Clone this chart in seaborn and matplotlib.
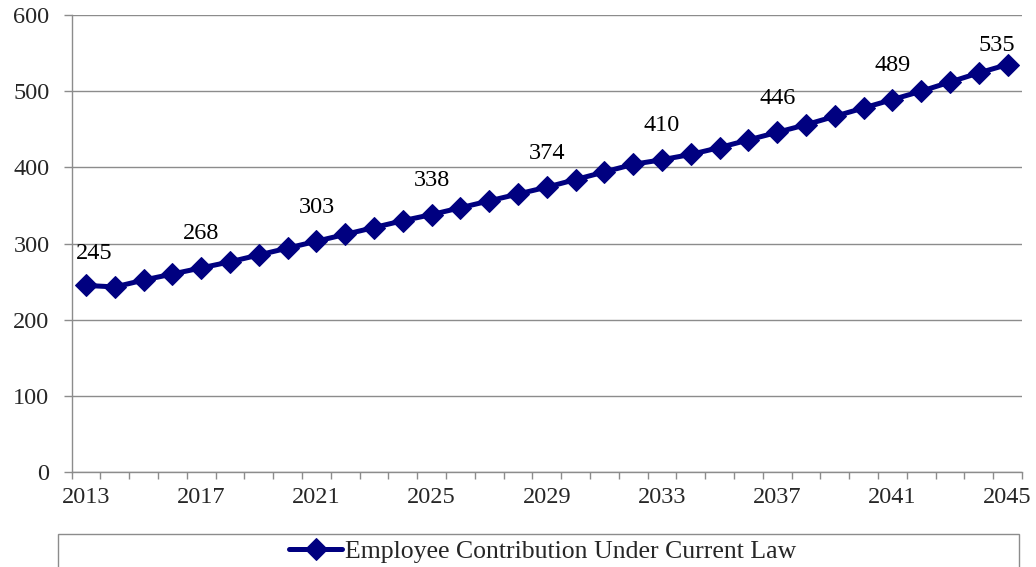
import pandas as pd
import seaborn as sns
import matplotlib.pyplot as plt
from matplotlib.patches import Rectangle

# data
years = list(range(2013, 2046))
contribution = [245, 243, 252, 260, 268, 276, 285, 294, 303, 312, 321, 330, 338,
                347, 356, 365, 374, 384, 394, 404, 410, 417, 426, 436, 446, 456,
                467, 478, 489, 500, 512, 524, 535]
label_years = [2013, 2017, 2021, 2025, 2029, 2033, 2037, 2041, 2045]
series_name = 'Employee Contribution Under Current Law'

df = pd.DataFrame({'year': years, 'value': contribution})

sns.set_style('white')
plt.rcParams['font.family'] = ['Liberation Serif', 'DejaVu Serif']

fig = plt.figure(figsize=(10.36, 5.67), dpi=100)
ax = fig.add_axes([0.0692, 0.1675, 0.9173, 0.806])

sns.lineplot(data=df, x='year', y='value', ax=ax, color='#000080', linewidth=3.6,
             marker='D', markersize=11, markeredgecolor='#000080',
             label=series_name, clip_on=False, zorder=3)

# categories sit between the tick marks
ax.set_xlim(years[0] - 0.5, years[-1] + 0.5)
ax.set_ylim(0, 600)
ax.set_yticks(range(0, 601, 100))
ax.set_xticks(label_years)
ax.set_xticks([y - 0.5 for y in years] + [years[-1] + 0.5], minor=True)
ax.set_xlabel('')
ax.set_ylabel('')
ax.yaxis.grid(True, color='#8c8c8c', linewidth=1)
ax.set_axisbelow(True)

for s in ['top', 'right']:
    ax.spines[s].set_visible(False)
for s in ['left', 'bottom']:
    ax.spines[s].set_color('#8c8c8c')
    ax.spines[s].set_linewidth(1)

ax.tick_params(axis='y', which='major', direction='out', length=6, width=1,
               color='#8c8c8c', labelsize=17.5, pad=10, left=True)
ax.tick_params(axis='x', which='minor', direction='out', length=5, width=1,
               color='#8c8c8c', bottom=True)
ax.tick_params(axis='x', which='major', length=0, labelsize=17.5, pad=11)

# data labels
for yr in label_years:
    val = contribution[years.index(yr)]
    dx, dy = 0, 24.5
    if yr == years[0]:
        dx, dy = 6, 23
    elif yr == years[-1]:
        dx, dy = -8, 14
    ax.annotate(str(val), (yr, val), xytext=(dx, dy), textcoords='offset points',
                ha='center', va='center', fontsize=17.5, color='black')

# legend box along the bottom, entry centred in it
fig.patches.append(Rectangle((0.056, -0.05), 0.9276, 0.1082, transform=fig.transFigure,
                             fill=False, edgecolor='#8c8c8c', linewidth=1))
ax.get_legend().remove()
handles, labels = ax.get_legend_handles_labels()
fig.legend(handles, labels, loc='center', bbox_to_anchor=(0.5237, 0.028),
           fontsize=18.5, frameon=False, handlelength=2.05, handletextpad=0.1,
           borderpad=0, borderaxespad=0)

fig.savefig('out.png', dpi=100)
